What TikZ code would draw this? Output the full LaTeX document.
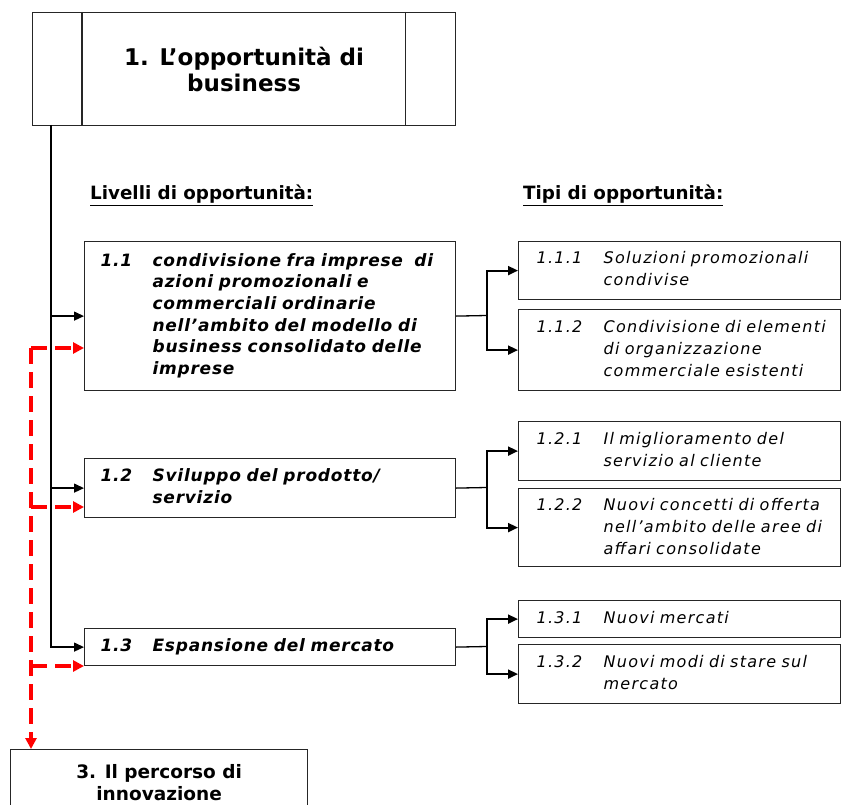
\documentclass[tikz,border=0pt]{standalone}
\usepackage{fontspec}
\setmainfont{DejaVu Sans}
\usetikzlibrary{arrows.meta}
\newcommand{\lbltab}[4]{\hspace*{#1}\makebox[#2][l]{#3}\begin{tabular}[t]{@{}l@{}}#4\end{tabular}}
\begin{document}
\begin{tikzpicture}[x=1pt,y=-1pt,
  box/.style={draw=black!85, line width=1.2pt, rectangle, anchor=north west},
  lvl/.style={box, inner xsep=0pt, inner ysep=0pt, text width=371pt, align=left,
    font=\fontsize{17}{21.7}\selectfont\bfseries\itshape\addfontfeature{LetterSpace=4.5}},
  tipo/.style={box, inner xsep=0pt, inner ysep=0pt, text width=322pt, align=left,
    font=\fontsize{16}{22}\selectfont\itshape\addfontfeature{LetterSpace=8}},
  head/.style={anchor=base west, inner sep=0pt, font=\fontsize{18.3}{22}\selectfont\bfseries},
  arr/.style={line width=1.3pt, -{Triangle[length=10pt,width=9pt]}},
  brr/.style={line width=2pt, -{Triangle[length=10pt,width=9pt]}},
  rdash/.style={draw=red, line width=3.5pt, dash pattern=on 16pt off 8pt},
  rarr/.style={rdash, -{Triangle[length=11pt,width=11pt]}}
]
\useasboundingbox (0,0) rectangle (841,805);

% top box
\node[box, minimum width=423pt, minimum height=113pt, inner sep=0pt, align=center,
  font=\fontsize{23}{26}\selectfont\bfseries] (t1) at (32,12)
  {1. L’opportunità di\\business};
\draw[black!85, line width=1.2pt] ([xshift=50pt]t1.north west) -- ([xshift=50pt]t1.south west);
\draw[black!85, line width=1.2pt] ([xshift=-51pt]t1.north east) -- ([xshift=-51pt]t1.south east);

% headings
\node[head] (h1) at (90,200) {\underline{Livelli di opportunità:}};
\node[head] (h2) at (523,200) {\underline{Tipi di opportunità:}};

% level boxes
\node[lvl, minimum height=149pt] (b11) at (84,241)
  {\lbltab{16pt}{52pt}{1.1}{condivisione fra imprese\ \ di\\azioni promozionali e\\commerciali ordinarie\\nell’ambito del modello di\\business consolidato delle\\imprese}};
\node[lvl, minimum height=59pt] (b12) at (84,458)
  {\lbltab{16pt}{52pt}{1.2}{Sviluppo del prodotto/\\servizio}};
\node[lvl, minimum height=37pt] (b13) at (84,628)
  {\lbltab{16pt}{52pt}{1.3}{Espansione del mercato}};

% type boxes
\node[tipo, minimum height=58pt] (b111) at (518,241)
  {\lbltab{18pt}{67pt}{1.1.1}{Soluzioni promozionali\\condivise}};
\node[tipo, minimum height=81pt] (b112) at (518,309)
  {\lbltab{18pt}{67pt}{1.1.2}{Condivisione di elementi\\di organizzazione\\commerciale esistenti}};
\node[tipo, minimum height=59pt] (b121) at (518,421)
  {\lbltab{18pt}{67pt}{1.2.1}{Il miglioramento del\\servizio al cliente}};
\node[tipo, minimum height=78pt] (b122) at (518,488)
  {\lbltab{18pt}{67pt}{1.2.2}{Nuovi concetti di offerta\\nell’ambito delle aree di\\affari consolidate}};
\node[tipo, minimum height=37pt] (b131) at (518,600)
  {\lbltab{18pt}{67pt}{1.3.1}{Nuovi mercati}};
\node[tipo, minimum height=59pt] (b132) at (518,644)
  {\lbltab{18pt}{67pt}{1.3.2}{Nuovi modi di stare sul\\mercato}};

% bottom box
\node[box, minimum width=297pt, minimum height=66pt, inner sep=0pt, align=center,
  font=\fontsize{18.5}{22}\selectfont\bfseries] (b3) at (10,749)
  {3. Il percorso di\\innovazione};

% black trunk
\coordinate (tk) at (51,125);
\draw[arr] (tk) |- (b13.west);
\draw[arr] (b11.west -| tk) -- (b11.west);
\draw[arr] (b12.west -| tk) -- (b12.west);

% branches
\coordinate (j1) at (487,315.5);
\coordinate (j2) at (487,487.5);
\coordinate (j3) at (487,646.5);
\draw[line width=1.3pt] (b11.east) -- (j1);
\draw[line width=1.3pt] (b12.east) -- (j2);
\draw[line width=1.3pt] (b13.east) -- (j3);
\draw[brr] (j1) |- (b111.west);
\draw[brr] (j1) |- (b112.west);
\draw[brr] (j2) |- (b121.west);
\draw[brr] (j2) |- (b122.west);
\draw[brr] (j3) |- (b131.west);
\draw[brr] (j3) |- (b132.west);

% red dashed
\coordinate (r1) at (31,348);
\coordinate (r2) at (31,507);
\coordinate (r3) at (31,666);
\draw[rarr] (r1) -- (r1 |- b3.north);
\draw[rarr] (r1) -- (r1 -| b11.west);
\draw[rarr] (r2) -- (r2 -| b12.west);
\draw[rarr] (r3) -- (r3 -| b13.west);
\end{tikzpicture}
\end{document}
